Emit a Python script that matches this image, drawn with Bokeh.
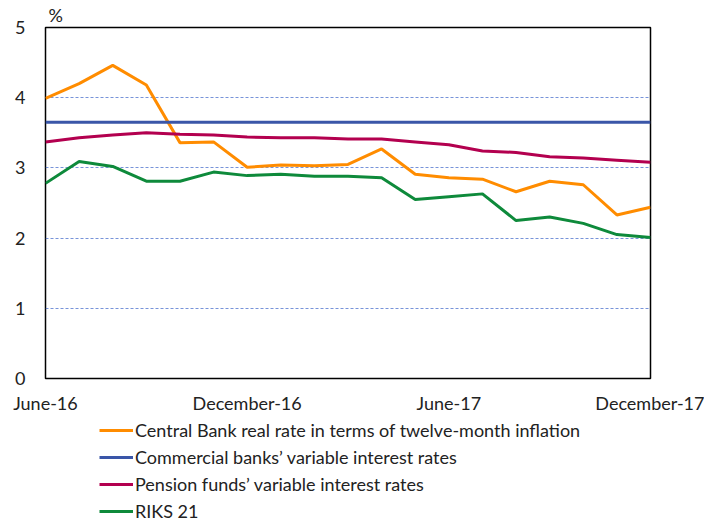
from bokeh.plotting import figure
from bokeh.layouts import column
from bokeh.models import FixedTicker, Legend, LegendItem, Range1d
from bokeh.embed import file_html
from bokeh.resources import INLINE

months = ["June-16", "July-16", "August-16", "September-16", "October-16", "November-16",
          "December-16", "January-17", "February-17", "March-17", "April-17", "May-17",
          "June-17", "July-17", "August-17", "September-17", "October-17", "November-17",
          "December-17"]
tick_labels = {0: "June-16", 6: "December-16", 12: "June-17", 18: "December-17"}

central_bank = [3.99, 4.20, 4.46, 4.18, 3.36, 3.37, 3.01, 3.04, 3.03, 3.05, 3.27,
                2.91, 2.86, 2.84, 2.66, 2.81, 2.76, 2.33, 2.44]
commercial = [3.65] * 19
pension = [3.37, 3.43, 3.47, 3.50, 3.48, 3.47, 3.44, 3.43, 3.43, 3.41, 3.41,
           3.37, 3.33, 3.24, 3.22, 3.16, 3.14, 3.11, 3.08]
riks21 = [2.78, 3.09, 3.02, 2.81, 2.81, 2.94, 2.89, 2.91, 2.88, 2.88, 2.86,
          2.55, 2.59, 2.63, 2.25, 2.30, 2.21, 2.05, 2.01]

names = ["Central Bank real rate in terms of twelve-month inflation",
         "Commercial banks\u2019 variable interest rates",
         "Pension funds\u2019 variable interest rates",
         "RIKS 21"]
colors = ["#ff8c00", "#3a56a8", "#b3004f", "#0e8a3b"]
all_series = [central_bank, commercial, pension, riks21]

FONT = "Lato"

x = list(range(len(months)))

p = figure(frame_width=605, frame_height=351, output_backend="svg", toolbar_location=None,
           x_range=Range1d(0, 18), y_range=Range1d(0, 5),
           min_border_left=45, min_border_right=54, min_border_top=27,
           min_border_bottom=38)
p.background_fill_color = "white"
p.border_fill_color = "white"
p.outline_line_color = "black"
p.outline_line_width = 1.5

p.title.text = "%"
p.title.align = "left"
p.title.offset = 3
p.title.standoff = 3
p.title.text_font = FONT
p.title.text_font_size = "18px"
p.title.text_font_style = "normal"
p.title.text_color = "#222222"

for series, c in zip(all_series, colors):
    p.line(x, series, line_color=c, line_width=3)

p.xgrid.visible = False
p.ygrid.grid_line_color = "#4a6fcc"
p.ygrid.grid_line_dash = "3 2"
p.ygrid.grid_line_width = 1
p.ygrid.grid_line_alpha = 0.75

p.yaxis.ticker = FixedTicker(ticks=[0, 1, 2, 3, 4, 5])
p.xaxis.ticker = FixedTicker(ticks=list(tick_labels.keys()))
p.xaxis.major_label_overrides = tick_labels
for ax in (p.xaxis, p.yaxis):
    ax.axis_line_color = None
    ax.major_tick_line_color = None
    ax.minor_tick_line_color = None
    ax.major_label_text_font = FONT
    ax.major_label_text_font_size = "18px"
    ax.major_label_text_color = "#222222"
p.yaxis.major_label_standoff = 14
p.xaxis.major_label_standoff = 7

# legend panel below the chart (series drawn out of view, only used for legend glyphs)
lg = figure(frame_width=704, frame_height=106, output_backend="svg", toolbar_location=None,
            x_range=Range1d(0, 18), y_range=Range1d(10, 11),
            x_axis_location=None, y_axis_location=None,
            min_border_left=0, min_border_right=0, min_border_top=0, min_border_bottom=0)
lg.outline_line_color = None
lg.xgrid.visible = False
lg.ygrid.visible = False
leg_renderers = [lg.line(x, s, line_color=c, line_width=3) for s, c in zip(all_series, colors)]

legend = Legend(items=[LegendItem(label=n, renderers=[r]) for n, r in zip(names, leg_renderers)],
                location=(99, 0), orientation="vertical")
legend.border_line_color = None
legend.background_fill_alpha = 0
legend.label_text_font = FONT
legend.label_text_font_size = "18px"
legend.label_text_color = "#222222"
legend.glyph_width = 34
legend.glyph_height = 20
legend.label_height = 20
legend.label_standoff = 2
legend.spacing = 5
legend.padding = 0
legend.margin = 0
lg.add_layout(legend, "center")

layout = column(p, lg, spacing=0)

open("out.html", "w").write(file_html(layout, INLINE))
